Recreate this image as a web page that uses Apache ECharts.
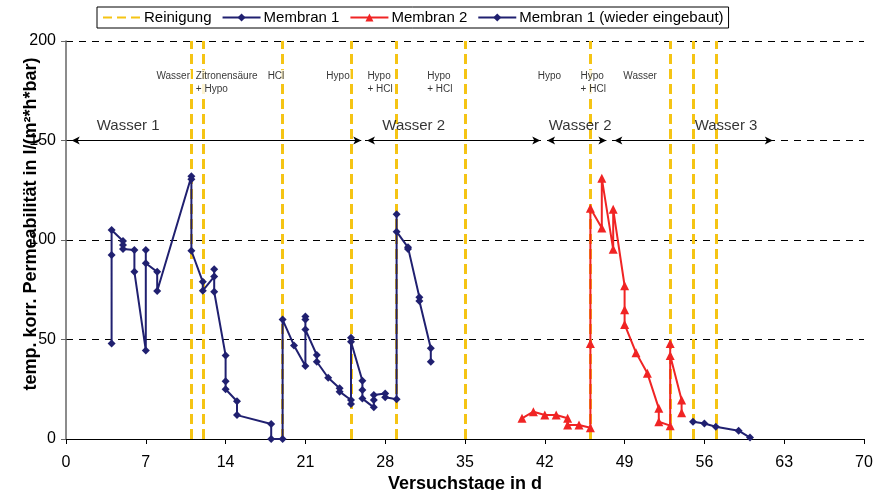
<!DOCTYPE html>
<html>
<head>
<meta charset="utf-8">
<script src="https://cdn.jsdelivr.net/npm/echarts@6/dist/echarts.min.js"></script>
<style>
  html, body { margin: 0; padding: 0; background: #fff; }
  #chart { width: 877px; height: 490px; }
</style>
</head>
<body>
<div id="chart"></div>
<script>
// Membran 1: [Versuchstag, Permeabilität]
const membran1 = [
  [4, 48], [4, 92.5], [4, 105],
  [5, 99.5], [5, 97.5], [5, 95.5],
  [6, 95], [6, 84],
  [7, 44.5], [7, 95], [7, 88.3],
  [8, 84], [8, 74.4],
  [11, 132], [11, 130.5], [11, 94.6],
  [12, 79], [12, 74.5],
  [13, 81.6], [13, 85.3], [13, 74],
  [14, 42], [14, 29], [14, 25],
  [15, 19], [15, 12],
  [18, 7.5], [18, 0],
  [19, 0], [19, 60],
  [20, 47],
  [21, 36.7], [21, 61.5], [21, 60], [21, 55],
  [22, 42.2], [22, 38.8],
  [23, 30.8],
  [24, 25.5], [24, 23.8],
  [25, 19.6], [25, 17.6], [25, 50.9], [25, 48.9],
  [26, 29.3], [26, 24.6], [26, 20.3],
  [27, 15.9], [27, 19.6], [27, 22.1],
  [28, 22.9], [28, 21],
  [29, 20], [29, 113], [29, 104.2],
  [30, 96.3], [30, 95.5],
  [31, 71.2], [31, 69.3],
  [32, 45.6], [32, 38.8]
];

// Membran 2
const membran2 = [
  [40, 10.4], [41, 13.7], [42, 12.1], [43, 12.1],
  [44, 10.4], [44, 7], [45, 7],
  [46, 5.7], [46, 48], [46, 116],
  [47, 106], [47, 131],
  [48, 95.3], [48, 115.4],
  [49, 77], [49, 65], [49, 57.6],
  [50, 43.4], [51, 33],
  [52, 15.4], [52, 8.7],
  [53, 6.7], [53, 48], [53, 42],
  [54, 19.6], [54, 13.2]
];

// Membran 1 nach dem Wiedereinbau
const membran1Wieder = [
  [55, 8.7], [56, 7.8], [57, 6.2], [59, 4.2], [60, 0.7]
];

// Tage mit chemischer Reinigung
const reinigungTage = [11, 12, 19, 25, 29, 35, 46, 53, 55, 57];

// Reinigungsmittel: Text, linker Rand (Tag)
const mittelTexte = ['Wasser', 'Zitronensäure\n+ Hypo', 'HCl', 'Hypo', 'Hypo\n+ HCl', 'Hypo\n+ HCl', 'Hypo', 'Hypo\n+ HCl', 'Wasser'];
const mittelTage  = [7.85, 11.3, 17.6, 22.75, 26.35, 31.6, 41.3, 45.05, 48.8];

// Versuchsphasen (Speisewasser) mit Pfeilbereichen
const phasenTexte = ['Wasser 1', 'Wasser 2', 'Wasser 2', 'Wasser 3'];
const phasenMitte = [5.45, 30.5, 45.1, 57.9];
const phasenVon   = [0.5, 26.4, 42.2, 48.1];
const phasenBis   = [25.9, 41.6, 47.4, 62.0];
const phasenHoehe = 150;

const xTicks = { min: 0, max: 70, interval: 7 };
const yTicks = { min: 0, max: 200, interval: 50 };

const NAVY = '#202070';
const RED = '#f02424';
const YELLOW = '#f5c414';
const FONT = 'Liberation Sans, Arial, sans-serif';

const chart = echarts.init(document.getElementById('chart'), null, { renderer: 'canvas' });

chart.setOption({
  animation: false,
  backgroundColor: '#fff',
  textStyle: { fontFamily: FONT },
  grid: { left: 66, right: 13, top: 41, bottom: 51, containLabel: false, outerBoundsMode: 'none' },
  legend: {
    data: [
      { name: 'Reinigung', itemStyle: { opacity: 0 } },
      'Membran 1', 'Membran 2', 'Membran 1 (wieder eingebaut)'
    ],
    left: 97, top: 7,
    padding: [3, 5, 3, 5],
    borderColor: '#000', borderWidth: 1,
    itemWidth: 38, itemHeight: 10, itemGap: 10,
    textStyle: { fontSize: 15, color: '#000', fontFamily: FONT, padding: [0, 0, 0, -2] }
  },
  xAxis: {
    type: 'value', min: xTicks.min, max: xTicks.max, interval: xTicks.interval,
    name: 'Versuchstage in d', nameLocation: 'middle', nameGap: 36,
    nameMoveOverlap: false,
    nameTextStyle: { fontSize: 18, fontWeight: 'bold', color: '#000', fontFamily: FONT },
    axisLine: { show: true, onZero: false, lineStyle: { color: '#000', width: 1 } },
    axisTick: { show: true, length: 5, lineStyle: { color: '#000' } },
    axisLabel: { fontSize: 16, color: '#000', margin: 16, fontFamily: FONT },
    splitLine: { show: false }
  },
  yAxis: {
    type: 'value', min: yTicks.min, max: yTicks.max, interval: yTicks.interval,
    name: 'temp. korr. Permeabilität in l/(m²*h*bar)', nameLocation: 'middle', nameGap: 26,
    nameMoveOverlap: false,
    nameTextStyle: { fontSize: 18, fontWeight: 'bold', color: '#000', fontFamily: FONT, padding: [0, 0, 0, 32] },
    axisLine: { show: true, lineStyle: { color: '#666', width: 1.5 } },
    axisTick: { show: true, length: 5, lineStyle: { color: '#666' } },
    axisLabel: { fontSize: 16, color: '#000', margin: 10, fontFamily: FONT },
    splitLine: { show: true, lineStyle: { color: '#000', type: [7, 6], width: 1 } }
  },
  series: [
    {
      name: 'Reinigung', type: 'line', data: [], symbol: 'none',
      lineStyle: { color: YELLOW, width: 3, type: [9, 5] },
      itemStyle: { color: YELLOW },
      markLine: {
        z: 1,
        silent: true, symbol: 'none', label: { show: false },
        lineStyle: { color: YELLOW, width: 3, type: [10, 5] },
        data: reinigungTage.map(d => ({ xAxis: d }))
      },
      z: 1
    },
    {
      name: 'Phasen', type: 'line', data: [], symbol: 'none',
      markLine: {
        z: 2,
        silent: true, symbol: ['arrow', 'arrow'], symbolSize: [6, 8],
        label: { show: false },
        lineStyle: { color: '#000', width: 1, type: 'solid' },
        data: phasenVon.map((v, i) => [
          { coord: [v, phasenHoehe] },
          { coord: [phasenBis[i], phasenHoehe] }
        ])
      },
      z: 2
    },
    {
      name: 'Membran 1', type: 'line', data: membran1,
      symbol: 'diamond', symbolSize: 8,
      lineStyle: { color: NAVY, width: 2 },
      itemStyle: { color: NAVY },
      z: 4
    },
    {
      name: 'Membran 2', type: 'line', data: membran2,
      symbol: 'triangle', symbolSize: 9,
      lineStyle: { color: RED, width: 2 },
      itemStyle: { color: RED },
      z: 4
    },
    {
      name: 'Membran 1 (wieder eingebaut)', type: 'line', data: membran1Wieder,
      symbol: 'diamond', symbolSize: 8,
      lineStyle: { color: NAVY, width: 2 },
      itemStyle: { color: NAVY },
      z: 4
    },
    {
      name: 'Mittel', type: 'scatter', symbolSize: 0, silent: true,
      data: mittelTexte.map((t, i) => ({ name: t, value: [mittelTage[i], 185.5] })),
      label: {
        show: true, position: [0, 0], align: 'left', verticalAlign: 'top',
        formatter: p => p.name,
        fontSize: 10, lineHeight: 13, color: '#000', fontFamily: FONT,
        backgroundColor: '#fff', padding: [0, 1, 0, 1]
      },
      z: 5
    },
    {
      name: 'Phasentext', type: 'scatter', symbolSize: 0, silent: true,
      data: phasenTexte.map((t, i) => ({ name: t, value: [phasenMitte[i], 157.4] })),
      label: {
        show: true, position: [0, 0], align: 'center', verticalAlign: 'middle',
        formatter: p => p.name,
        fontSize: 15, color: '#000', fontFamily: FONT
      },
      z: 5
    }
  ]
});
</script>
</body>
</html>
